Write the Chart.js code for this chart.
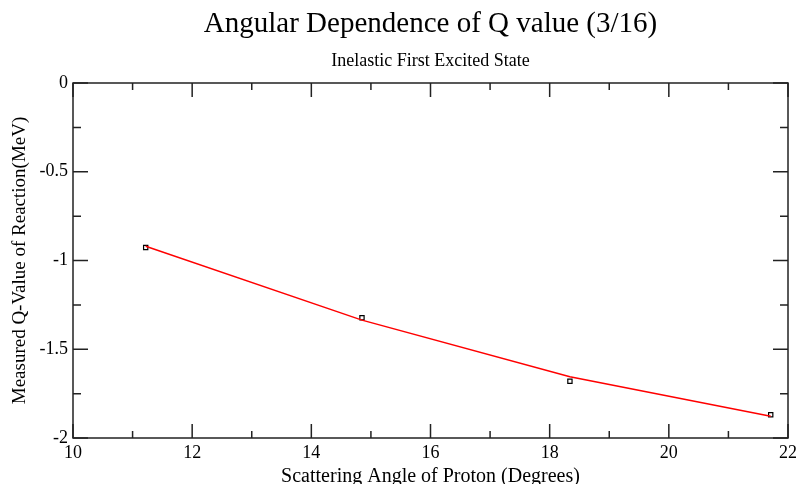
<!DOCTYPE html>
<html>
<head>
<meta charset="utf-8">
<script src="https://cdn.jsdelivr.net/npm/chart.js@4/dist/chart.umd.min.js"></script>
<style>
  html, body { margin: 0; padding: 0; background: #fff; }
  #wrap { width: 801px; height: 484px; }
</style>
</head>
<body>
<div id="wrap"><canvas id="myChart" width="801" height="484"></canvas></div>
<script>
// measured points
const angles = [11.22, 14.85, 18.34, 21.71];
const qValues = [-0.927, -1.323, -1.680, -1.869];
const fitValues = [-0.920, -1.336, -1.655, -1.877];

const xTicks = { min: 10, max: 22, step: 2 };
const yTicks = { min: -2, max: 0, step: 0.5 };

const pts = angles.map(function(a, i) { return { x: a, y: qValues[i] }; });
const fit = angles.map(function(a, i) { return { x: a, y: fitValues[i] }; });

// frame + inward ticks on all four sides
const frameTicks = {
  id: 'frameTicks',
  afterDatasetsDraw(chart) {
    const ctx = chart.ctx, a = chart.chartArea;
    const xs = chart.scales.x, ys = chart.scales.y;
    ctx.save();
    ctx.strokeStyle = '#222';
    ctx.lineWidth = 1.5;
    ctx.strokeRect(a.left, a.top, a.right - a.left, a.bottom - a.top);
    const xv = xs.ticks.map(function(t) { return t.value; });
    const yv = ys.ticks.map(function(t) { return t.value; });
    ctx.beginPath();
    xv.forEach(function(v, i) {
      const p = xs.getPixelForValue(v);
      ctx.moveTo(p, a.bottom); ctx.lineTo(p, a.bottom - 14);
      ctx.moveTo(p, a.top); ctx.lineTo(p, a.top + 14);
      if (i < xv.length - 1) {
        const m = xs.getPixelForValue((v + xv[i + 1]) / 2);
        ctx.moveTo(m, a.bottom); ctx.lineTo(m, a.bottom - 7);
        ctx.moveTo(m, a.top); ctx.lineTo(m, a.top + 7);
      }
    });
    yv.forEach(function(v, i) {
      const p = ys.getPixelForValue(v);
      ctx.moveTo(a.left, p); ctx.lineTo(a.left + 15, p);
      ctx.moveTo(a.right, p); ctx.lineTo(a.right - 15, p);
      if (i < yv.length - 1) {
        const m = ys.getPixelForValue((v + yv[i + 1]) / 2);
        ctx.moveTo(a.left, m); ctx.lineTo(a.left + 8, m);
        ctx.moveTo(a.right, m); ctx.lineTo(a.right - 8, m);
      }
    });
    ctx.stroke();
    ctx.restore();
  }
};

const serif = 'Liberation Serif';

var ctx = document.getElementById('myChart').getContext('2d');
var chart = new Chart(ctx, {
  type: 'scatter',
  data: {
    datasets: [{
      label: 'fit',
      data: fit,
      showLine: true,
      borderColor: '#ff0000',
      borderWidth: 1.5,
      pointRadius: 0,
      fill: false
    }, {
      label: 'Q value',
      data: pts,
      pointStyle: 'rect',
      pointRadius: 3,
      borderWidth: 1.2,
      borderColor: '#000',
      backgroundColor: '#fff'
    }]
  },
  options: {
    responsive: false,
    animation: false,
    layout: { padding: { left: 0, right: 13, top: 0, bottom: 0 } },
    plugins: {
      legend: { display: false },
      tooltip: { enabled: false },
      title: {
        display: true,
        text: 'Angular Dependence of Q value (3/16)',
        color: '#000',
        fullSize: false,
        font: { family: serif, size: 29, weight: 'normal' },
        padding: { top: 7, bottom: 2 }
      },
      subtitle: {
        display: true,
        text: 'Inelastic First Excited State',
        color: '#000',
        fullSize: false,
        font: { family: serif, size: 18, weight: 'normal' },
        padding: { top: 7, bottom: 10.6 }
      }
    },
    scales: {
      x: {
        type: 'linear',
        min: xTicks.min, max: xTicks.max,
        afterFit: function(s) { s.height = 46; },
        grid: { display: false, drawTicks: false },
        border: { display: false },
        ticks: { stepSize: xTicks.step, color: '#000', padding: 4,
                 font: { family: serif, size: 18 } },
        title: { display: true, text: 'Scattering Angle of Proton (Degrees)',
                 color: '#000', padding: { top: 0, bottom: -5 },
                 font: { family: serif, size: 20 } }
      },
      y: {
        min: yTicks.min, max: yTicks.max,
        afterFit: function(s) { s.width = 73; },
        grid: { display: false, drawTicks: false },
        border: { display: false },
        ticks: { stepSize: yTicks.step, color: '#000', padding: 5,
                 font: { family: serif, size: 18 },
                 callback: function(v) { return String(v); } },
        title: { display: true, text: 'Measured Q-Value of Reaction(MeV)',
                 color: '#000', padding: { top: 8.5, bottom: 0 },
                 font: { family: serif, size: 19 } }
      }
    }
  },
  plugins: [frameTicks]
});
</script>
</body>
</html>
